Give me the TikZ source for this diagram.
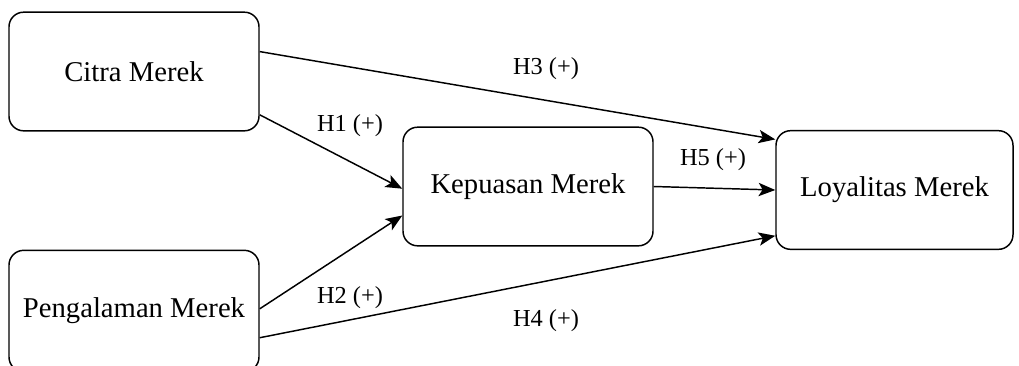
\documentclass[tikz,border=0pt]{standalone}
\usepackage{fontspec}
\setmainfont{Liberation Serif}
\usepackage{tikz}
\usetikzlibrary{arrows.meta}
\tikzstyle{varbox} = [draw=black, line width=1.1pt, fill=white,
    rectangle, rounded corners=11pt, inner sep=0pt,
    minimum width=187.5pt, minimum height=89pt,
    font=\fontsize{21.5}{25}\selectfont]
\tikzstyle{hyplabel} = [inner sep=0pt, font=\fontsize{18.3}{22}\selectfont]
\tikzstyle{hyparrow} = [line width=1.1pt, -{Stealth[length=12.5pt, width=10pt, inset=3pt]}]

\begin{document}
\begin{tikzpicture}[x=0.75pt, y=-0.75pt]
                \useasboundingbox (0,0) rectangle (1019,365);
                % variabel
                \node [varbox] (citra) at (134,71.5) {Citra Merek};
                \node [varbox, minimum height=91pt] (pengalaman) at (134,311) {Pengalaman Merek};
                \node [varbox] (kepuasan) at (528,186.5) {Kepuasan Merek};
                \node [varbox, minimum width=177.75pt] (loyalitas) at (894.5,190) {Loyalitas Merek};
                % hipotesis
                \draw [hyparrow] (citra.9.3) -- (loyalitas.157.1);
                \draw [hyparrow] (citra.-19.2) -- (kepuasan.181.6);
                \draw [hyparrow] (pengalaman.1.1) -- (kepuasan.193.7);
                \draw [hyparrow] (pengalaman.-12.4) -- (loyalitas.201.2);
                \draw [hyparrow] (kepuasan.0) -- (loyalitas.180);
                \node [hyplabel] (h1) at (350,126) {H1 (+)};
                \node [hyplabel] (h2) at (350,298) {H2 (+)};
                \node [hyplabel] (h3) at (546,69) {H3 (+)};
                \node [hyplabel] (h4) at (546,321) {H4 (+)};
                \node [hyplabel] (h5) at (713,160) {H5 (+)};
            \end{tikzpicture}
\end{document}
